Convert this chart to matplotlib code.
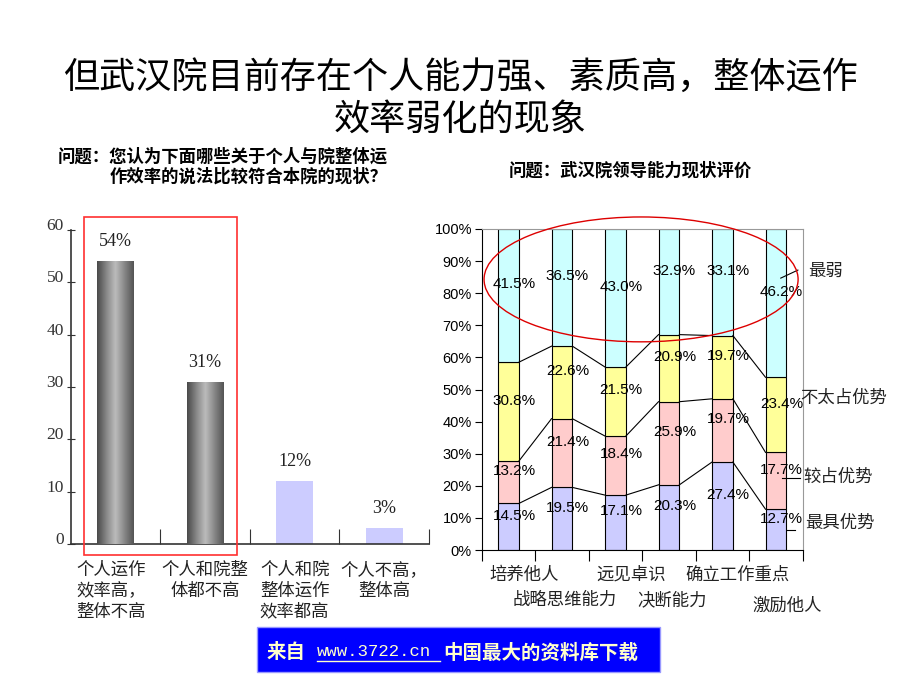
import matplotlib
matplotlib.use("Agg")
import matplotlib.pyplot as plt
import numpy as np
from matplotlib.colors import LinearSegmentedColormap
from matplotlib.patches import Rectangle, Ellipse
from matplotlib.lines import Line2D
from matplotlib.transforms import ScaledTranslation

plt.rcParams["font.family"] = ["Noto Sans CJK SC", "DejaVu Sans"]

# ---- data: left chart ----
left_categories = ["个人运作\n效率高，\n整体不高", "个人和院整\n体都不高",
                   "个人和院\n整体运作\n效率都高", "个人不高，\n整体高"]
left_values = [54, 31, 12, 3]
left_labels = ["54%", "31%", "12%", "3%"]
left_yticks = [0, 10, 20, 30, 40, 50, 60]

# ---- data: right chart (bottom to top) ----
right_categories = ["培养他人", "战略思维能力", "远见卓识", "决断能力", "确立工作重点", "激励他人"]
right_series = ["最具优势", "较占优势", "不太占优势", "最弱"]
best = [14.5, 19.5, 17.1, 20.3, 27.4, 12.7]
better = [13.2, 21.4, 18.4, 25.9, 19.7, 17.7]
not_much = [30.8, 22.6, 21.5, 20.9, 19.7, 23.4]
weakest = [41.5, 36.5, 43.0, 32.9, 33.1, 46.2]
right_yticks = [0, 10, 20, 30, 40, 50, 60, 70, 80, 90, 100]

title_lines = ["但武汉院目前存在个人能力强、素质高，整体运作", "效率弱化的现象"]
left_question = ["问题：您认为下面哪些关于个人与院整体运", "作效率的说法比较符合本院的现状？"]
right_question = "问题：武汉院领导能力现状评价"

W, H = 920, 690


def fx(px):
    return px / W


def fy(py):
    return 1 - py / H


fig = plt.figure(figsize=(9.2, 6.9), dpi=100)

# titles
fig.text(0.5, fy(78), title_lines[0], ha="center", va="center", fontsize=26)
fig.text(0.5, fy(120), title_lines[1], ha="center", va="center", fontsize=26)
fig.text(fx(388), fy(157), left_question[0], ha="right", va="center", fontsize=12.5, fontweight="bold")
fig.text(fx(388), fy(177), left_question[1], ha="right", va="center", fontsize=12.5, fontweight="bold")
fig.text(fx(630), fy(171), right_question, ha="center", va="center", fontsize=12.5, fontweight="bold")

# ---- left chart ----
ax1 = fig.add_axes([fx(70.7), fy(544), 358.3 / W, 314 / H])
x1 = np.arange(len(left_values))
bar_colors = ["#808080", "#808080", "#ccccff", "#ccccff"]
bars = ax1.bar(x1, left_values, width=0.41, color=bar_colors, edgecolor="none", zorder=2)

cyl = LinearSegmentedColormap.from_list("cyl", ["#4a4a4a", "#878787", "#bcbcbc", "#878787", "#555555"])
grad = np.linspace(0, 1, 64).reshape(1, -1)
for b in bars[:2]:
    x0, w, h = b.get_x(), b.get_width(), b.get_height()
    im = ax1.imshow(grad, cmap=cyl, extent=[x0, x0 + w, 0, h], aspect="auto", zorder=3)
    im.set_clip_path(b)

for xi, v, lbl in zip(x1, left_values, left_labels):
    ax1.annotate(lbl, (xi, v), xytext=(0, 14), textcoords="offset points",
                 ha="center", va="center", fontsize=13, family="Liberation Serif", color="#222222")

for xi, c in zip(x1, left_categories):
    ax1.annotate(c, (xi, 0), xytext=(-3 if xi == 0 else 0, -12), textcoords="offset points",
                 ha="center", va="top", fontsize=12.5, linespacing=1.22, color="#222222")

ax1.set_xlim(-0.5, 3.5)
ax1.set_ylim(0, 60)
for s in ["top", "right"]:
    ax1.spines[s].set_visible(False)
for s in ["left", "bottom"]:
    ax1.spines[s].set_color("#333333")
    ax1.spines[s].set_linewidth(1.2)
ax1.set_yticks(left_yticks)
ax1.set_xticks([0.5, 1.5, 2.5, 3.5])
ax1.set_xticklabels([])
ax1.tick_params(axis="y", direction="inout", length=6, labelsize=12.5, pad=2, colors="#333333")
ax1.tick_params(axis="x", direction="in", length=11, colors="#333333")
for t in ax1.get_yticklabels():
    t.set_family("Liberation Serif")
    t.set_transform(t.get_transform() + ScaledTranslation(0, 6 / 100, fig.dpi_scale_trans))

ax1.add_patch(Rectangle((-0.352, -2.1), 1.708, 64.6, fill=False, edgecolor="#ff3030",
                        linewidth=1.2, clip_on=False, zorder=5))

# ---- right chart ----
ax2 = fig.add_axes([fx(481.7), fy(550), 321 / W, 321 / H])
x2 = np.arange(len(right_categories))
bw = 0.39
seg_colors = ["#ccccff", "#ffcccc", "#ffff99", "#ccffff"]
bottom = np.zeros(len(right_categories))
levels = []
for vals, col in zip([best, better, not_much, weakest], seg_colors):
    vals = np.array(vals)
    ax2.bar(x2, vals, bw, bottom=bottom, color=col, edgecolor="black", linewidth=0.8, zorder=2)
    for xi, b0, v in zip(x2, bottom, vals):
        ax2.annotate(f"{v:.1f}%", (xi, b0 + v / 2), xytext=(4, 8), textcoords="offset points",
                     ha="center", va="center", fontsize=11, family="Liberation Sans", zorder=4)
    bottom = bottom + vals
    levels.append(bottom.copy())

# series lines between bars
for lev in levels[:3]:
    for i in range(len(x2) - 1):
        ax2.plot([x2[i] + bw / 2, x2[i + 1] - bw / 2], [lev[i], lev[i + 1]],
                 color="black", linewidth=0.8, zorder=3)

ax2.set_xlim(-0.5, 5.5)
ax2.set_ylim(0, 100)
for s in ["top", "right"]:
    ax2.spines[s].set_color("#999999")
for s in ["left", "bottom"]:
    ax2.spines[s].set_color("black")
ax2.set_yticks(right_yticks)
ax2.set_yticklabels([f"{t}%" for t in right_yticks])
ax2.set_xticks(np.arange(-0.5, 6, 1))
ax2.set_xticklabels([])
ax2.tick_params(axis="y", direction="out", length=5, labelsize=10.5, pad=2)
ax2.tick_params(axis="x", direction="out", length=8)
for t in ax2.get_yticklabels():
    t.set_family("Liberation Sans")

for xi, c in zip(x2, right_categories):
    if xi % 2 == 0:
        off = (11, -18)
    else:
        off = (2, -36)
    if xi == 5:
        off = (8, -40)
    ax2.annotate(c, (xi, 0), xytext=off, textcoords="offset points",
                 ha="center", va="center", fontsize=12.5, color="#222222")

# series names on the right with leader lines
name_pos = [(5.54, 8.4), (5.51, 22.7), (5.45, 47.4), (5.60, 86.9)]
for name, (nx, ny) in zip(right_series, name_pos):
    ax2.text(nx, ny, name, ha="left", va="center", fontsize=12.5, color="#222222", clip_on=False)
leaders = [([5.20, 5.36], [6.2, 6.2]), ([5.11, 5.45], [22.4, 22.4]), ([5.09, 5.41], [84.7, 87.2])]
for lx, ly in leaders:
    ax2.add_line(Line2D(lx, ly, color="black", linewidth=0.8, clip_on=False, zorder=5))

ax2.add_patch(Ellipse((2.479, 84.3), 5.87, 38.9, fill=False, edgecolor="#dd0000",
                      linewidth=1.0, clip_on=False, zorder=6))

# ---- bottom banner ----
fig.patches.append(Rectangle((fx(256.7), fy(672)), (660 - 256.7) / W, 45 / H,
                             transform=fig.transFigure, facecolor="#0000ff",
                             edgecolor="#9999ff", linewidth=1))
fig.text(fx(267), fy(653), "来自", ha="left", va="center", fontsize=14,
         fontweight="bold", color="#ffffcc")
fig.text(fx(317), fy(652), "www.3722.cn", ha="left", va="center", fontsize=12.5,
         family="Liberation Mono", color="#ffffcc")
fig.lines.append(Line2D([fx(317), fx(440)], [fy(661), fy(661)], transform=fig.transFigure,
                        color="#ffffcc", linewidth=1))
fig.text(fx(443), fy(653), "中国最大的资料库下载", ha="left", va="center", fontsize=14,
         fontweight="bold", color="#ffffcc")

fig.savefig("out.png", dpi=100)
